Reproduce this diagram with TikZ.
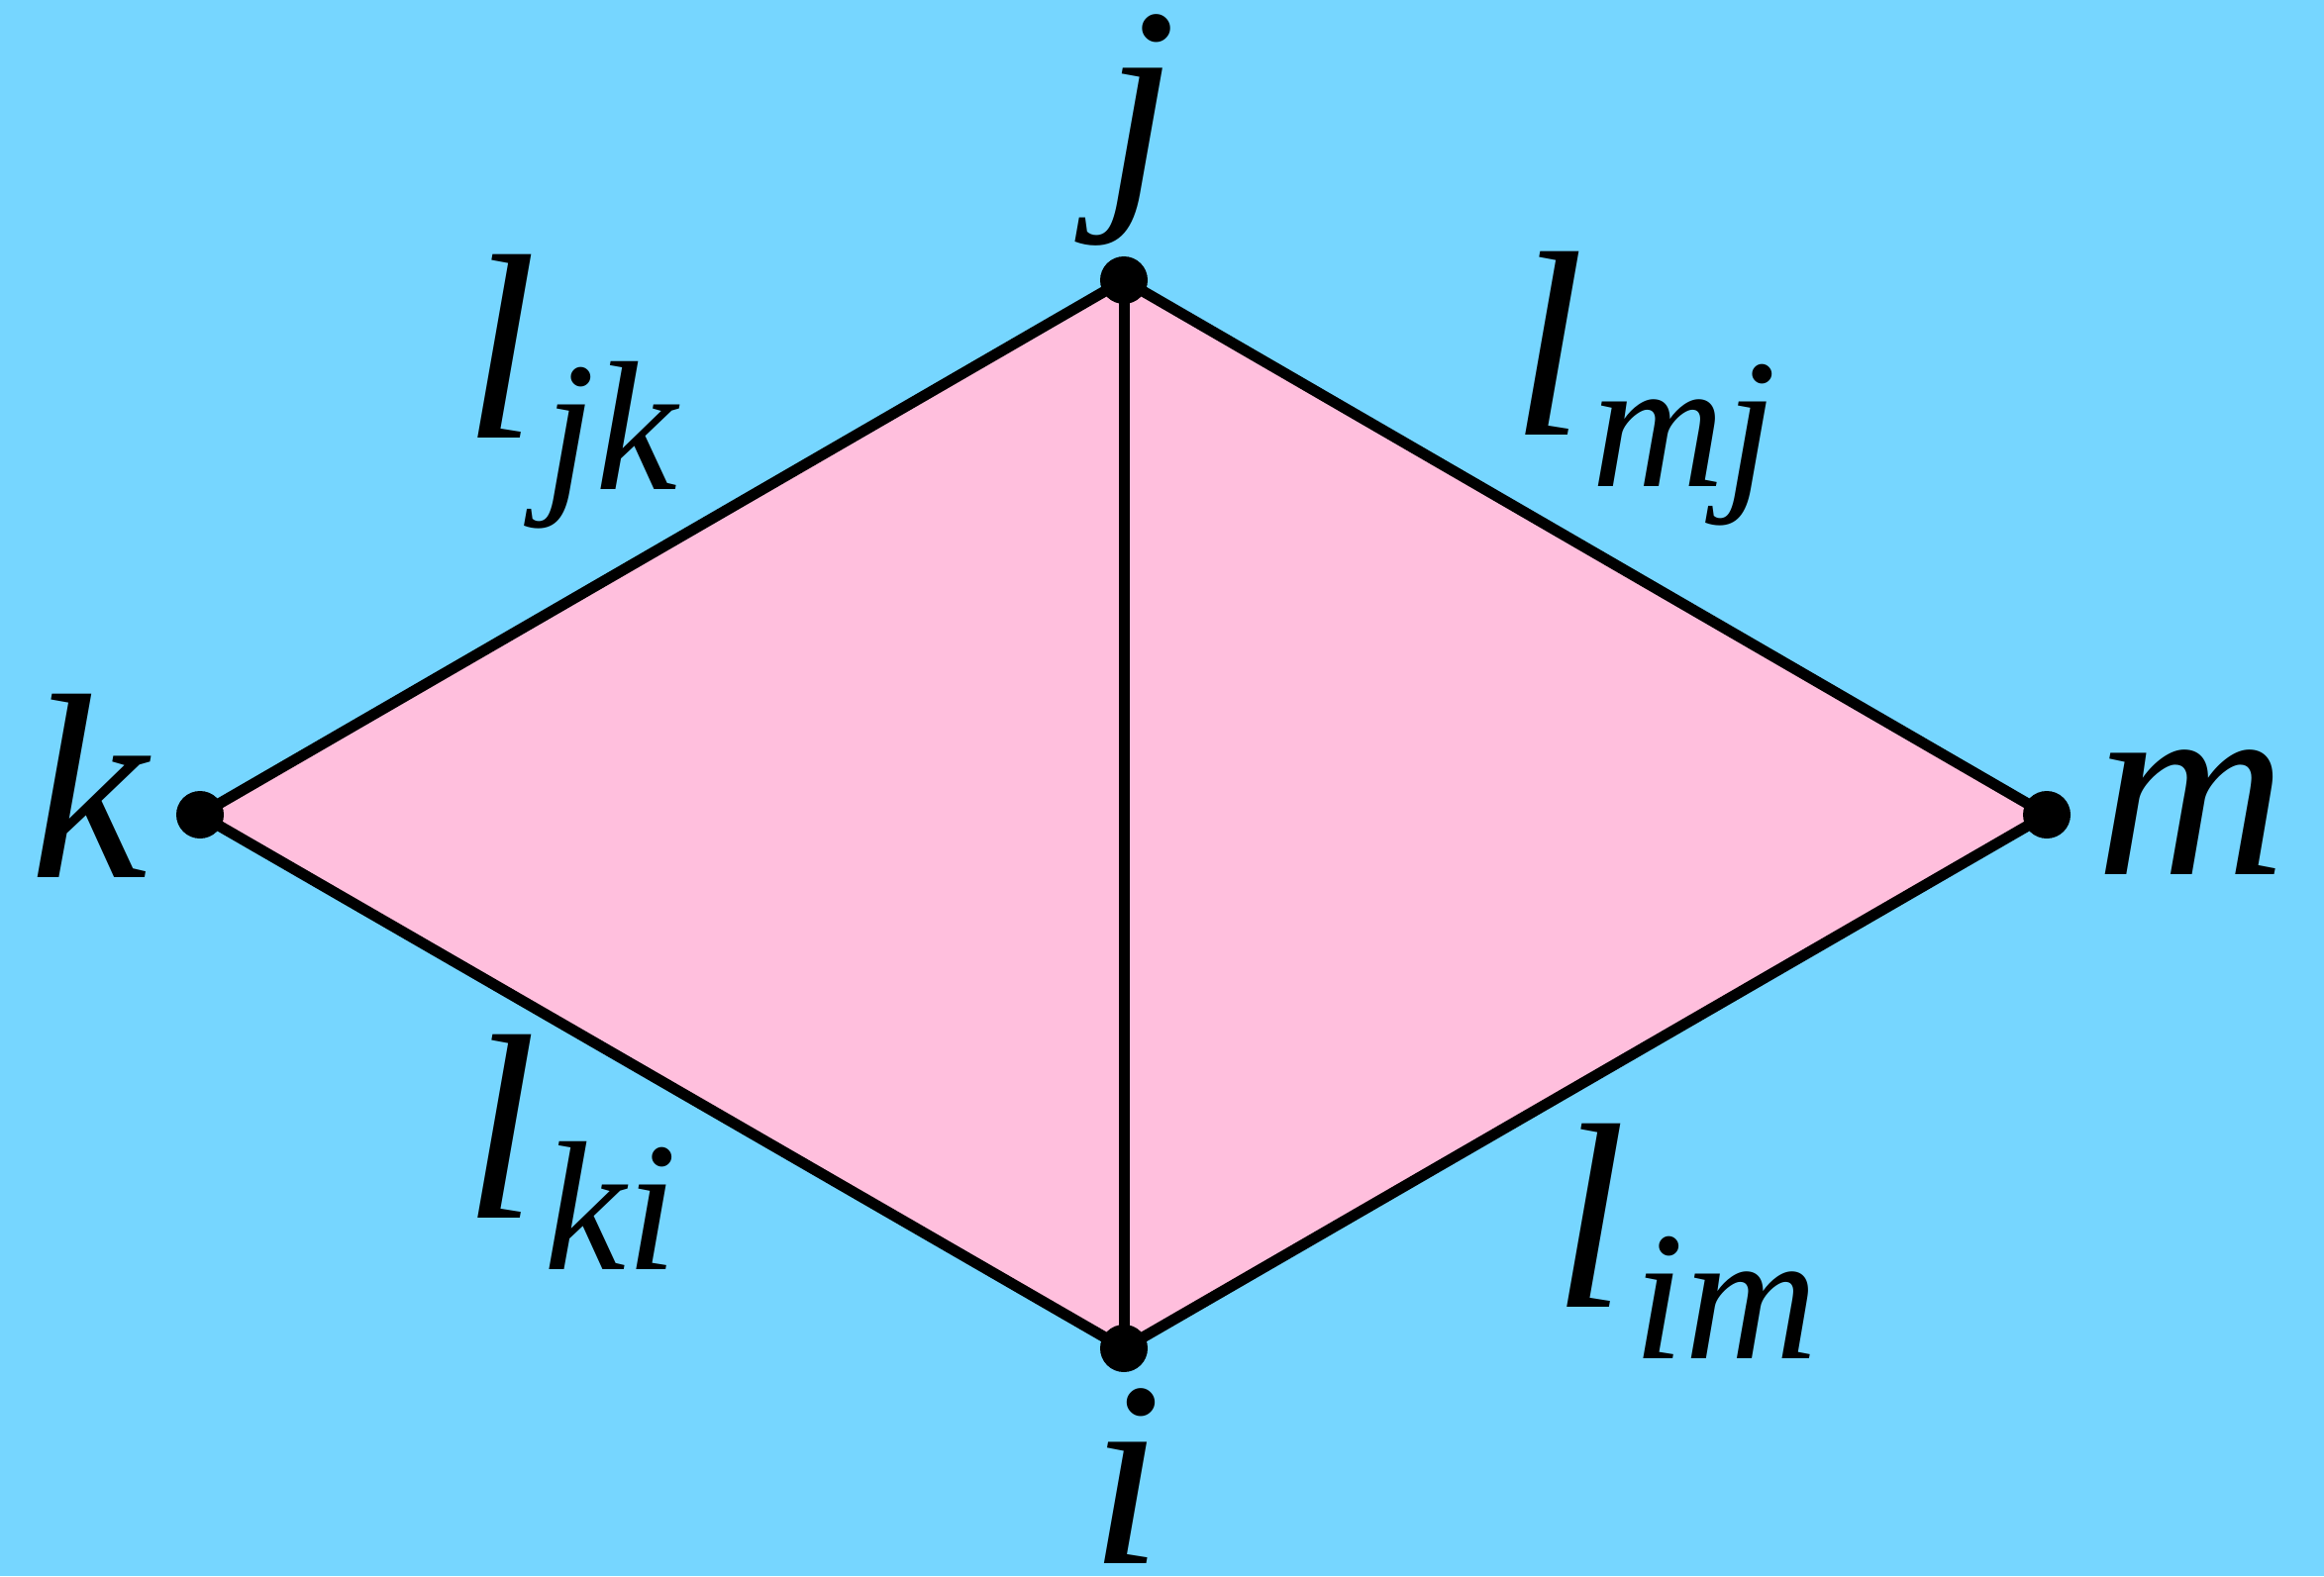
\documentclass[tikz,border=0pt]{standalone}
\usepackage{fontspec}
\setmainfont{Liberation Serif}
\definecolor{bgblue}{RGB}{118,214,255}
\definecolor{facepink}{RGB}{255,191,221}
\newcommand{\biglab}[1]{{\fontsize{76}{76}\selectfont\itshape #1}}
\newcommand{\edgelab}[1]{{\fontsize{76}{76}\selectfont\itshape l}\kern2pt\raisebox{-15pt}{\fontsize{53}{53}\selectfont\itshape #1}}

\begin{document}
\begin{tikzpicture}[
    vertex/.style={circle,fill=black,inner sep=0pt,minimum size=4.8mm},
    edge/.style={line width=1.1mm,line join=round},
    lab/.style={inner sep=0pt,anchor=base},
    elab/.style={inner sep=0pt,anchor=base west}
  ]
    \fill[bgblue] (0,0) rectangle (23.47,15.92);
    \useasboundingbox (0,0) rectangle (23.47,15.92);

    \coordinate (pj) at (11.35,13.09);
    \coordinate (pk) at (2.02,7.69);
    \coordinate (pm) at (20.67,7.69);
    \coordinate (pi) at (11.35,2.30);

    \fill[facepink] (pj) -- (pm) -- (pi) -- (pk) -- cycle;
    \draw[edge] (pj) -- (pk) -- (pi) -- (pm) -- cycle;
    \draw[edge] (pj) -- (pi);

    \node[vertex] (j) at (pj) {};
    \node[vertex] (k) at (pk) {};
    \node[vertex] (m) at (pm) {};
    \node[vertex] (i) at (pi) {};

    \node[lab] (labj) at (11.52,14.00) {\biglab{j}};
    \node[lab] (labk) at (0.90,7.06) {\biglab{k}};
    \node[lab] (labm) at (22.13,7.09) {\biglab{m}};
    \node[lab] (labi) at (11.38,0.13) {\biglab{i}};

    \node[elab] (ljk) at (4.68,11.50) {\edgelab{jk}};
    \node[elab] (lmj) at (15.26,11.53) {\edgelab{mj}};
    \node[elab] (lki) at (4.68,3.62) {\edgelab{ki}};
    \node[elab] (lim) at (15.68,2.72) {\edgelab{im}};
  \end{tikzpicture}
\end{document}
